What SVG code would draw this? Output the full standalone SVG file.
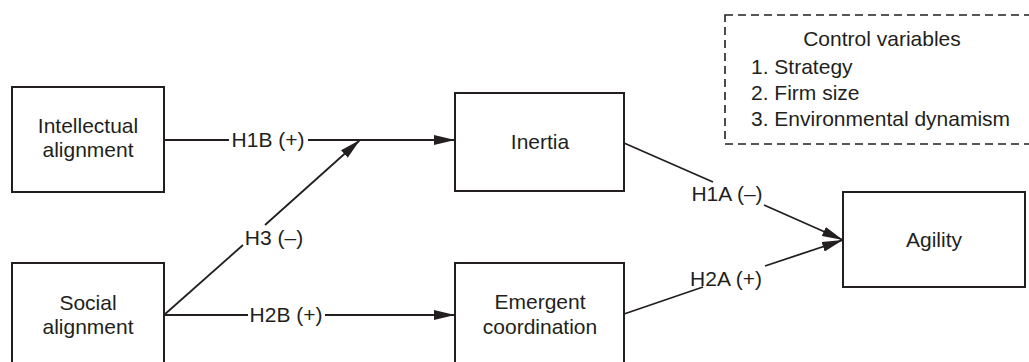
<svg xmlns="http://www.w3.org/2000/svg" width="1029" height="362" viewBox="0 0 1029 362">
<style>
.box{fill:#fff;stroke:#231f20;stroke-width:2}
.ln{fill:none;stroke:#231f20;stroke-width:1.8}
.t{font-family:"Liberation Sans",Arial,sans-serif;font-size:21px;fill:#231f20;text-anchor:middle}
.tl{font-family:"Liberation Sans",Arial,sans-serif;font-size:21px;fill:#231f20}
</style>
<defs>
<marker id="arr" markerUnits="userSpaceOnUse" markerWidth="22" markerHeight="12" refX="21" refY="6" orient="auto">
<path d="M0,1 L21,6 L0,11 Z" fill="#231f20"/>
</marker>
</defs>
<rect width="1029" height="362" fill="#fff"/>
<g id="controls">
<rect x="725" y="15" width="310" height="129" fill="none" stroke="#231f20" stroke-width="1.6" stroke-dasharray="8,5"/>
<text class="t" x="882" y="46">Control variables</text>
<text class="tl" x="751" y="74">1. Strategy</text>
<text class="tl" x="751" y="100">2. Firm size</text>
<text class="tl" x="751" y="126">3. Environmental dynamism</text>
</g>
<g id="intellectual">
<rect class="box" x="12" y="87" width="152" height="105"/>
<text class="t" x="88" y="133">Intellectual</text>
<text class="t" x="88" y="157">alignment</text>
</g>
<g id="social">
<rect class="box" x="12" y="263" width="152" height="110"/>
<text class="t" x="88" y="310">Social</text>
<text class="t" x="88" y="334">alignment</text>
</g>
<g id="inertia">
<rect class="box" x="455" y="93" width="169" height="98"/>
<text class="t" x="540" y="149">Inertia</text>
</g>
<g id="emergent">
<rect class="box" x="455" y="263" width="169" height="110"/>
<text class="t" x="540" y="309">Emergent</text>
<text class="t" x="540" y="334">coordination</text>
</g>
<g id="agility">
<rect class="box" x="843" y="192" width="182" height="95"/>
<text class="t" x="934" y="247">Agility</text>
</g>
<g id="connectors">
<line class="ln" x1="164" y1="140" x2="229" y2="140"/>
<line class="ln" x1="308" y1="140" x2="455" y2="140" marker-end="url(#arr)"/>
<text class="t" x="268" y="147">H1B (+)</text>
<line class="ln" x1="164" y1="315" x2="243" y2="245"/>
<line class="ln" x1="265" y1="225" x2="360" y2="140" marker-end="url(#arr)"/>
<text class="t" x="274" y="245">H3 (–)</text>
<line class="ln" x1="164" y1="315" x2="248" y2="315"/>
<line class="ln" x1="325" y1="315" x2="455" y2="315" marker-end="url(#arr)"/>
<text class="t" x="286" y="322">H2B (+)</text>
<line class="ln" x1="624" y1="143" x2="713" y2="182"/>
<line class="ln" x1="764" y1="205" x2="843" y2="240" marker-end="url(#arr)"/>
<text class="t" x="727" y="201">H1A (–)</text>
<line class="ln" x1="624" y1="314" x2="703" y2="287"/>
<line class="ln" x1="765" y1="266" x2="843" y2="240" marker-end="url(#arr)"/>
<text class="t" x="726" y="286">H2A (+)</text>
</g>
</svg>
